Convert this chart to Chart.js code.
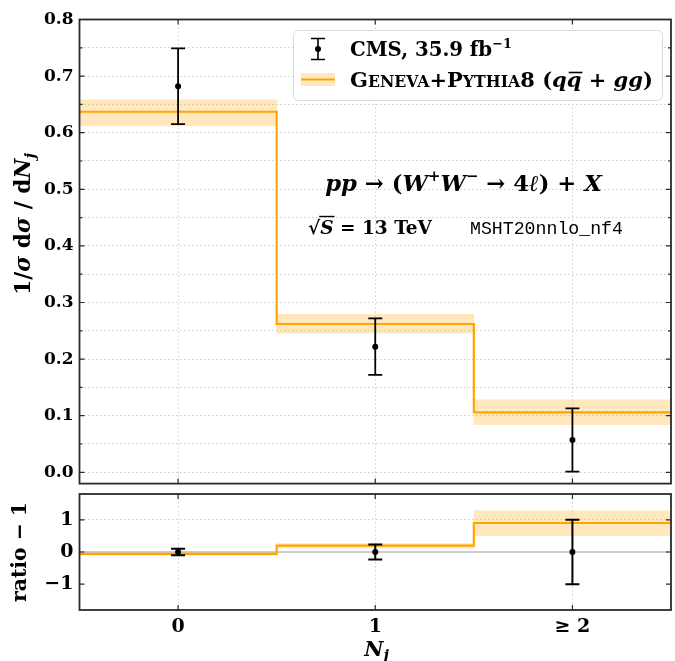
<!DOCTYPE html>
<html>
<head>
<meta charset="utf-8">
<script src="https://cdn.jsdelivr.net/npm/chart.js@4.4.1/dist/chart.umd.min.js"></script>
<style>
  html, body { margin: 0; padding: 0; background: #ffffff; }
  #wrap { position: relative; width: 675px; height: 661px; }
  #wrap canvas { position: absolute; left: 0; top: 0; }
</style>
</head>
<body>
<div id="wrap">
  <canvas id="mainPanel" width="675" height="661"></canvas>
  <canvas id="ratioPanel" width="675" height="661"></canvas>
</div>
<script>
// ---- jet multiplicity bins ----
const categories = [0, 1, 2];
const categoryLabels = ['0', '1', '\u2265 2'];
const binEdges = [-0.5, 0.5, 1.5, 2.5];

// ---- normalised distribution 1/sigma dsigma/dN_j ----
const cmsValues = [0.682, 0.222, 0.057];
const cmsErrors = [0.067, 0.050, 0.056];
const genevaValues = [0.637, 0.262, 0.106];
const genevaLow = [0.612, 0.246, 0.084];
const genevaHigh = [0.658, 0.279, 0.128];

// ---- ratio - 1 panel ----
const cmsRatioValues = [0, 0, 0];
const cmsRatioErrors = [0.10, 0.23, 1.00];
const genevaRatioValues = [-0.06, 0.20, 0.90];
const genevaRatioLow = [-0.10, 0.13, 0.51];
const genevaRatioHigh = [-0.03, 0.26, 1.28];
const ratioReference = 0;

// ---- tick labels ----
const mainTickValues = [0.0, 0.1, 0.2, 0.3, 0.4, 0.5, 0.6, 0.7, 0.8];
const mainTickLabels = ['0.0', '0.1', '0.2', '0.3', '0.4', '0.5', '0.6', '0.7', '0.8'];
const ratioTickValues = [-1, 0, 1];
const ratioTickLabels = ['\u22121', '0', '1'];

const ORANGE = '#FFA500';
const BAND = 'rgba(255,165,0,0.26)';
const GRID = '#cfcfcf';
const FRAME = '#2b2b2b';
const SERIF = '"DejaVu Serif", serif';

Chart.defaults.font.family = SERIF;
Chart.defaults.color = '#000';

function stepPoints(values) {
  return binEdges.map((e, i) => ({ x: e, y: values[Math.min(i, values.length - 1)] }));
}
function bandBars(lo, hi) {
  return categories.map((c, i) => ({ x: c, y: [lo[i], hi[i]] }));
}
function pointData(values) {
  return categories.map((c, i) => ({ x: c, y: values[i] }));
}

// draws a run of differently styled text pieces, optionally fitted to a width
function drawRuns(ctx, runs, x, y, align, width) {
  let scale = 1;
  const measure = (s) => {
    let w = 0;
    runs.forEach(r => {
      ctx.font = `${r.style || ''} ${r.size * s}px ${r.family || SERIF}`;
      w += ctx.measureText(r.text).width + (r.dx || 0) * s;
    });
    return w;
  };
  if (width) scale = width / measure(1);
  const total = measure(scale);
  let cx = align === 'center' ? x - total / 2 : x;
  const placed = [];
  runs.forEach(r => {
    ctx.font = `${r.style || ''} ${r.size * scale}px ${r.family || SERIF}`;
    const w = ctx.measureText(r.text).width;
    ctx.fillText(r.text, cx, y + (r.dy || 0) * scale);
    placed.push({ x: cx, w: w, size: r.size * scale });
    cx += w + (r.dx || 0) * scale;
  });
  return placed;
}

// inward ticks on all four sides plus the surrounding frame
const framePlugin = {
  id: 'frame',
  afterDraw(chart, args, opts) {
    const { ctx, chartArea: a, scales } = chart;
    const xs = scales.x, ys = scales.y;
    ctx.save();
    ctx.strokeStyle = FRAME;
    ctx.lineWidth = 1.2;
    ctx.beginPath();
    opts.yMajor.forEach(v => {
      const p = ys.getPixelForValue(v);
      ctx.moveTo(a.left, p); ctx.lineTo(a.left + 5, p);
      ctx.moveTo(a.right, p); ctx.lineTo(a.right - 5, p);
    });
    (opts.yMinor || []).forEach(v => {
      const p = ys.getPixelForValue(v);
      ctx.moveTo(a.left, p); ctx.lineTo(a.left + 3, p);
      ctx.moveTo(a.right, p); ctx.lineTo(a.right - 3, p);
    });
    categories.forEach(v => {
      const p = xs.getPixelForValue(v);
      ctx.moveTo(p, a.top); ctx.lineTo(p, a.top + 5);
      ctx.moveTo(p, a.bottom); ctx.lineTo(p, a.bottom - 5);
    });
    ctx.stroke();
    ctx.lineWidth = 1.8;
    ctx.strokeRect(a.left, a.top, a.right - a.left, a.bottom - a.top);
    ctx.restore();
  }
};

// vertical error bars with caps around the measured points
const errorBarPlugin = {
  id: 'errorBars',
  afterDatasetsDraw(chart, args, opts) {
    const { ctx, scales } = chart;
    ctx.save();
    ctx.strokeStyle = '#000';
    ctx.lineWidth = opts.lineWidth || 1.8;
    ctx.beginPath();
    categories.forEach((c, i) => {
      const x = scales.x.getPixelForValue(c);
      const yHi = scales.y.getPixelForValue(opts.values[i] + opts.errors[i]);
      const yLo = scales.y.getPixelForValue(opts.values[i] - opts.errors[i]);
      ctx.moveTo(x, yHi); ctx.lineTo(x, yLo);
      ctx.moveTo(x - 7, yHi); ctx.lineTo(x + 7, yHi);
      ctx.moveTo(x - 7, yLo); ctx.lineTo(x + 7, yLo);
    });
    ctx.stroke();
    ctx.restore();
  }
};

// axis titles, legend and process annotation of the main panel
const mainTextPlugin = {
  id: 'mainText',
  afterDraw(chart) {
    const ctx = chart.ctx;
    ctx.save();
    ctx.fillStyle = '#000';
    ctx.textBaseline = 'alphabetic';

    // y-axis title
    ctx.save();
    ctx.translate(30, 224);
    ctx.rotate(-Math.PI / 2);
    drawRuns(ctx, [
      { text: '1/', style: 'bold', size: 20 },
      { text: '\u03c3', style: 'italic bold', size: 20 },
      { text: ' d', style: 'bold', size: 20 },
      { text: '\u03c3', style: 'italic bold', size: 20 },
      { text: ' / d', style: 'bold', size: 20 },
      { text: 'N', style: 'italic bold', size: 20 },
      { text: 'j', style: 'italic bold', size: 14, dy: 5 }
    ], 0, 0, 'center', 142);
    ctx.restore();

    // legend box
    ctx.save();
    ctx.beginPath();
    ctx.roundRect(293.5, 30.5, 369, 70, 5);
    ctx.fillStyle = 'rgba(255,255,255,0.9)';
    ctx.fill();
    ctx.strokeStyle = '#d9d9d9';
    ctx.lineWidth = 1;
    ctx.stroke();
    ctx.restore();

    // legend: measurement entry
    ctx.save();
    ctx.strokeStyle = '#000';
    ctx.lineWidth = 1.6;
    ctx.beginPath();
    ctx.moveTo(318, 38.5); ctx.lineTo(318, 59.5);
    ctx.moveTo(311, 38.5); ctx.lineTo(325, 38.5);
    ctx.moveTo(311, 59.5); ctx.lineTo(325, 59.5);
    ctx.stroke();
    ctx.beginPath();
    ctx.arc(318, 49, 3, 0, Math.PI * 2);
    ctx.fillStyle = '#000';
    ctx.fill();
    ctx.restore();
    drawRuns(ctx, [
      { text: 'CMS, 35.9 fb', style: 'bold', size: 20 },
      { text: '\u22121', style: 'bold', size: 13, dy: -8 }
    ], 350, 56, 'left', 162);

    // legend: prediction entry
    ctx.save();
    ctx.fillStyle = BAND;
    ctx.fillRect(301, 73, 34, 13);
    ctx.strokeStyle = ORANGE;
    ctx.lineWidth = 2;
    ctx.beginPath();
    ctx.moveTo(301, 79.5); ctx.lineTo(335, 79.5);
    ctx.stroke();
    ctx.restore();
    const placed = drawRuns(ctx, [
      { text: 'G', style: 'bold', size: 20 },
      { text: 'ENEVA', style: 'bold', size: 15 },
      { text: '+P', style: 'bold', size: 20 },
      { text: 'YTHIA', style: 'bold', size: 15 },
      { text: '8 (', style: 'bold', size: 20 },
      { text: 'q', style: 'italic bold', size: 20 },
      { text: 'q', style: 'italic bold', size: 20 },
      { text: ' + ', style: 'bold', size: 20 },
      { text: 'gg', style: 'italic bold', size: 20 },
      { text: ')', style: 'bold', size: 20 }
    ], 350, 86.5, 'left', 303);
    // bar over the antiquark
    const qb = placed[6];
    ctx.save();
    ctx.strokeStyle = '#000';
    ctx.lineWidth = 1.6;
    ctx.beginPath();
    ctx.moveTo(qb.x + 2, 72.5); ctx.lineTo(qb.x + qb.w + 1, 72.5);
    ctx.stroke();
    ctx.restore();

    // process annotation
    drawRuns(ctx, [
      { text: 'pp', style: 'italic bold', size: 20 },
      { text: ' \u2192 (', style: 'bold', size: 20 },
      { text: 'W', style: 'italic bold', size: 20 },
      { text: '+', style: 'bold', size: 13, dy: -8 },
      { text: 'W', style: 'italic bold', size: 20 },
      { text: '\u2212', style: 'bold', size: 13, dy: -8 },
      { text: ' \u2192 4', style: 'bold', size: 20 },
      { text: '\u2113', style: 'italic bold', size: 20 },
      { text: ') + ', style: 'bold', size: 20 },
      { text: 'X', style: 'italic bold', size: 20 }
    ], 463.5, 190.5, 'center', 277);

    const sq = drawRuns(ctx, [
      { text: '\u221a', style: 'bold', size: 20 },
      { text: 'S', style: 'italic bold', size: 20 },
      { text: ' = 13 TeV', style: 'bold', size: 20 }
    ], 308, 234, 'left', 124);
    ctx.save();
    ctx.strokeStyle = '#000';
    ctx.lineWidth = 1.4;
    ctx.beginPath();
    ctx.moveTo(sq[0].x + sq[0].w - 1, 216.5);
    ctx.lineTo(sq[1].x + sq[1].w + 1, 216.5);
    ctx.stroke();
    ctx.restore();
    drawRuns(ctx, [
      { text: 'MSHT20nnlo_nf4', style: '', size: 18, family: '"Liberation Mono", "DejaVu Sans Mono", monospace' }
    ], 470, 234, 'left', 153);

    ctx.restore();
  }
};

// category labels and axis titles of the ratio panel
const ratioTextPlugin = {
  id: 'ratioText',
  afterDraw(chart) {
    const ctx = chart.ctx;
    const xs = chart.scales.x;
    ctx.save();
    ctx.fillStyle = '#000';
    ctx.textBaseline = 'alphabetic';
    categories.forEach((c, i) => {
      ctx.font = `bold 19px ${SERIF}`;
      ctx.textAlign = 'center';
      ctx.fillText(categoryLabels[i], xs.getPixelForValue(c), 632);
    });
    ctx.textAlign = 'left';
    ctx.save();
    ctx.translate(26, 552);
    ctx.rotate(-Math.PI / 2);
    drawRuns(ctx, [
      { text: 'ratio \u2212 1', style: 'bold', size: 20 }
    ], 0, 0, 'center', 100);
    ctx.restore();
    drawRuns(ctx, [
      { text: 'N', style: 'italic bold', size: 21 },
      { text: 'j', style: 'italic bold', size: 15, dy: 4 }
    ], 376.5, 656, 'center');
    ctx.restore();
  }
};

function labelFor(values, labels) {
  return (v) => {
    const i = values.findIndex(t => Math.abs(t - v) < 1e-6);
    return i >= 0 ? labels[i] : '';
  };
}

const mainMinor = [];
for (let i = 0; i < mainTickValues.length - 1; i++) {
  mainMinor.push(Math.round((mainTickValues[i] + mainTickValues[i + 1]) * 50) / 100);
}

new Chart(document.getElementById('mainPanel'), {
  data: {
    datasets: [
      { type: 'line', data: pointData(cmsValues), showLine: false, pointRadius: 3,
        pointBackgroundColor: '#000', pointBorderWidth: 0, order: 0 },
      { type: 'line', data: stepPoints(genevaValues), stepped: 'before', borderColor: ORANGE,
        borderWidth: 2.2, pointRadius: 0, fill: false, order: 1 },
      { type: 'bar', data: bandBars(genevaLow, genevaHigh), backgroundColor: BAND, borderWidth: 0,
        barPercentage: 1, categoryPercentage: 1, order: 2 }
    ]
  },
  options: {
    responsive: false,
    animation: false,
    devicePixelRatio: 1,
    layout: { padding: { left: 0, right: 1.7, top: 19.5, bottom: 661 - 483.6 } },
    plugins: {
      legend: { display: false },
      tooltip: { enabled: false },
      frame: { yMajor: mainTickValues, yMinor: mainMinor },
      errorBars: { values: cmsValues, errors: cmsErrors, lineWidth: 1.8 }
    },
    scales: {
      x: {
        type: 'linear', min: -0.5, max: 2.5, offset: false,
        ticks: { display: false, stepSize: 1, includeBounds: false },
        grid: { color: GRID, lineWidth: 1, drawTicks: false },
        border: { display: false, dash: [1.5, 2.5] },
        afterFit: (s) => { s.height = 0; }
      },
      y: {
        type: 'linear', min: -0.02, max: 0.8,
        ticks: { stepSize: 0.05, includeBounds: false, padding: 6, color: '#000',
                 font: { size: 17, weight: 'bold' }, callback: labelFor(mainTickValues, mainTickLabels) },
        grid: { color: GRID, lineWidth: 1, drawTicks: false },
        border: { display: false, dash: [1.5, 2.5] },
        afterFit: (s) => { s.width = 79.5; }
      }
    }
  },
  plugins: [errorBarPlugin, framePlugin, mainTextPlugin]
});

new Chart(document.getElementById('ratioPanel'), {
  data: {
    datasets: [
      { type: 'line', data: pointData(cmsRatioValues), showLine: false, pointRadius: 3,
        pointBackgroundColor: '#000', pointBorderWidth: 0, order: 0 },
      { type: 'line', data: stepPoints(genevaRatioValues), stepped: 'before', borderColor: ORANGE,
        borderWidth: 2.2, pointRadius: 0, fill: false, order: 1 },
      { type: 'line', data: binEdges.filter((e, i) => i === 0 || i === binEdges.length - 1).map(e => ({ x: e, y: ratioReference })),
        borderColor: '#9a9a9a', borderWidth: 1.2, pointRadius: 0, fill: false, order: 2 },
      { type: 'bar', data: bandBars(genevaRatioLow, genevaRatioHigh), backgroundColor: BAND, borderWidth: 0,
        barPercentage: 1, categoryPercentage: 1, order: 3 }
    ]
  },
  options: {
    responsive: false,
    animation: false,
    devicePixelRatio: 1,
    layout: { padding: { left: 0, right: 1.7, top: 494, bottom: 0 } },
    plugins: {
      legend: { display: false },
      tooltip: { enabled: false },
      frame: { yMajor: ratioTickValues },
      errorBars: { values: cmsRatioValues, errors: cmsRatioErrors, lineWidth: 2 }
    },
    scales: {
      x: {
        type: 'linear', min: -0.5, max: 2.5, offset: false,
        ticks: { display: false, stepSize: 1, includeBounds: false },
        grid: { color: GRID, lineWidth: 1, drawTicks: false },
        border: { display: false, dash: [1.5, 2.5] },
        afterFit: (s) => { s.height = 51; }
      },
      y: {
        type: 'linear', min: -1.8, max: 1.8,
        ticks: { stepSize: 1, includeBounds: false, padding: 6, color: '#000',
                 font: { size: 19, weight: 'bold' }, callback: labelFor(ratioTickValues, ratioTickLabels) },
        grid: { color: (c) => (c.tick && c.tick.value === 1 ? GRID : 'rgba(0,0,0,0)'), lineWidth: 1, drawTicks: false },
        border: { display: false, dash: [1.5, 2.5] },
        afterFit: (s) => { s.width = 79.5; }
      }
    }
  },
  plugins: [errorBarPlugin, framePlugin, ratioTextPlugin]
});
</script>
</body>
</html>
